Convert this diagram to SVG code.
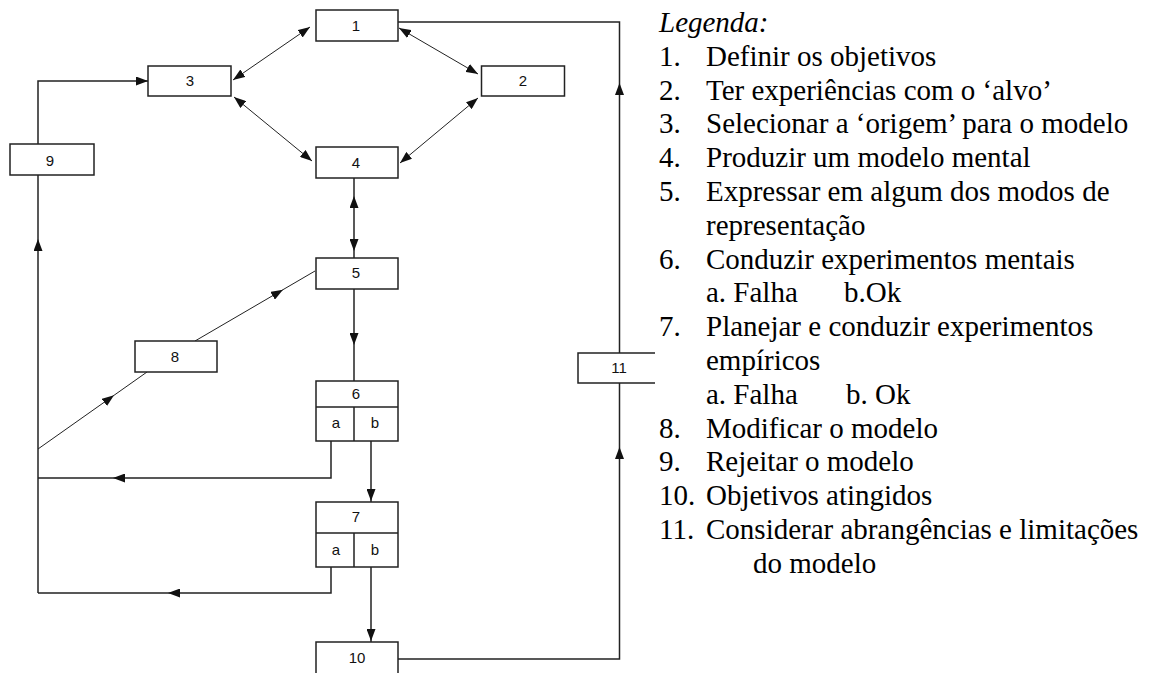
<svg xmlns="http://www.w3.org/2000/svg" width="1151" height="673" viewBox="0 0 1151 673">
<defs>
<marker id="ah" viewBox="0 0 12 9" refX="12" refY="4.5" markerWidth="12" markerHeight="9" markerUnits="userSpaceOnUse" orient="auto-start-reverse"><path d="M0,0 L12,4.5 L0,9 z" fill="#111"/></marker>
</defs>
<style>
.box{fill:#fff;stroke:#222;stroke-width:1.5}
.ln{fill:none;stroke:#222;stroke-width:1.5}
.dg{fill:none;stroke:#222;stroke-width:1}
.dbl{marker-start:url(#ah);marker-end:url(#ah)}
.ah{fill:none;stroke:none;marker-end:url(#ah)}
.lbl{font-family:"Liberation Sans",Arial,sans-serif;font-size:15px;fill:#111;text-anchor:middle}
.lg text{font-family:"Liberation Serif","Times New Roman","DejaVu Serif",serif;font-size:29px;fill:#000}
</style>
<rect width="1151" height="673" fill="#fff"/>
<g id="connectors">
<path class="ln" d="M398,659 H619.5 V383"/>
<path class="ln" d="M619.5,353 V22 H398"/>
<path class="ah" d="M619.5,460 V447"/>
<path class="ah" d="M619.5,96 V83"/>
<path class="ln" d="M38,144 V81 H148"/>
<path class="ah" d="M130,81 H148"/>
<path class="ln" d="M38,593 V175"/>
<path class="ah" d="M38,252 V239"/>
<path class="ln" d="M354,178 V258"/>
<path class="ah" d="M354,210 V196"/>
<path class="ah" d="M354,238 V251"/>
<path class="ln" d="M354,289 V381"/>
<path class="ah" d="M354,330 V345"/>
<path class="dg" d="M195,341 L315,271"/>
<path class="ah" d="M270,297.3 L283,289.7"/>
<path class="dg" d="M38,449 L147,372"/>
<path class="ah" d="M102,404.1 L114,395.3"/>
<path class="ln" d="M331,441 V478 H38"/>
<path class="ah" d="M126,478 H113"/>
<path class="ln" d="M371,441 V502"/>
<path class="ah" d="M371,488 V501"/>
<path class="ln" d="M331,567 V593 H38"/>
<path class="ah" d="M181,593 H168"/>
<path class="ln" d="M371,567 V642"/>
<path class="ah" d="M371,628 V641"/>
<path class="dg dbl" d="M233,80 L310,27"/>
<path class="dg dbl" d="M399,28 L478,74"/>
<path class="dg dbl" d="M234,97 L312,161"/>
<path class="dg dbl" d="M478,98 L400,163"/>
</g>
<g id="node1"><rect class="box" x="316" y="10" width="82" height="31"/><text class="lbl" x="356" y="31">1</text></g>
<g id="node2"><rect class="box" x="481.5" y="66" width="83" height="30"/><text class="lbl" x="523" y="86">2</text></g>
<g id="node3"><rect class="box" x="148" y="66" width="83" height="30"/><text class="lbl" x="190" y="86">3</text></g>
<g id="node4"><rect class="box" x="316" y="147" width="82" height="31"/><text class="lbl" x="356" y="168">4</text></g>
<g id="node5"><rect class="box" x="316" y="258" width="82" height="31"/><text class="lbl" x="356" y="278">5</text></g>
<g id="node6"><rect class="box" x="316" y="381" width="82" height="60"/><path class="ln" d="M316,407 H398 M354,407 V441"/><text class="lbl" x="356" y="399">6</text><text class="lbl" x="336" y="427.5">a</text><text class="lbl" x="375" y="427.5">b</text></g>
<g id="node7"><rect class="box" x="316" y="502" width="82" height="65"/><path class="ln" d="M316,533 H398 M354,533 V567"/><text class="lbl" x="356" y="521.5">7</text><text class="lbl" x="336" y="554.5">a</text><text class="lbl" x="375" y="554.5">b</text></g>
<g id="node8"><rect class="box" x="135" y="341" width="82" height="31"/><text class="lbl" x="175" y="361.5">8</text></g>
<g id="node9"><rect class="box" x="10" y="144" width="84" height="31"/><text class="lbl" x="50" y="165.5">9</text></g>
<g id="node10"><rect class="box" x="316" y="642" width="82" height="40"/><text class="lbl" x="357" y="662.5">10</text></g>
<g id="node11"><path class="ln" d="M655,353 H578 V383 H655"/><text class="lbl" x="619" y="372.5">11</text></g>
<g id="legend" class="lg">
<text x="659" y="32" font-style="italic">Legenda:</text>
<text x="659" y="65.8">1.</text><text x="706" y="65.8">Definir os objetivos</text>
<text x="659" y="99.6">2.</text><text x="706" y="99.6">Ter experiências com o ‘alvo’</text>
<text x="659" y="133.4">3.</text><text x="706" y="133.4">Selecionar a ‘origem’ para o modelo</text>
<text x="659" y="167.2">4.</text><text x="706" y="167.2">Produzir um modelo mental</text>
<text x="659" y="201">5.</text><text x="706" y="201">Expressar em algum dos modos de</text>
<text x="706" y="234.8">representação</text>
<text x="659" y="268.6">6.</text><text x="706" y="268.6">Conduzir experimentos mentais</text>
<text x="706" y="302.4">a. Falha</text><text x="844" y="302.4">b.Ok</text>
<text x="659" y="336.2">7.</text><text x="706" y="336.2">Planejar e conduzir experimentos</text>
<text x="706" y="370">empíricos</text>
<text x="706" y="403.8">a. Falha</text><text x="846" y="403.8">b. Ok</text>
<text x="659" y="437.6">8.</text><text x="706" y="437.6">Modificar o modelo</text>
<text x="659" y="471.4">9.</text><text x="706" y="471.4">Rejeitar o modelo</text>
<text x="659" y="505.2">10.</text><text x="706" y="505.2">Objetivos atingidos</text>
<text x="659" y="539">11.</text><text x="706" y="539">Considerar abrangências e limitações</text>
<text x="753" y="572.8">do modelo</text>
</g>
</svg>
